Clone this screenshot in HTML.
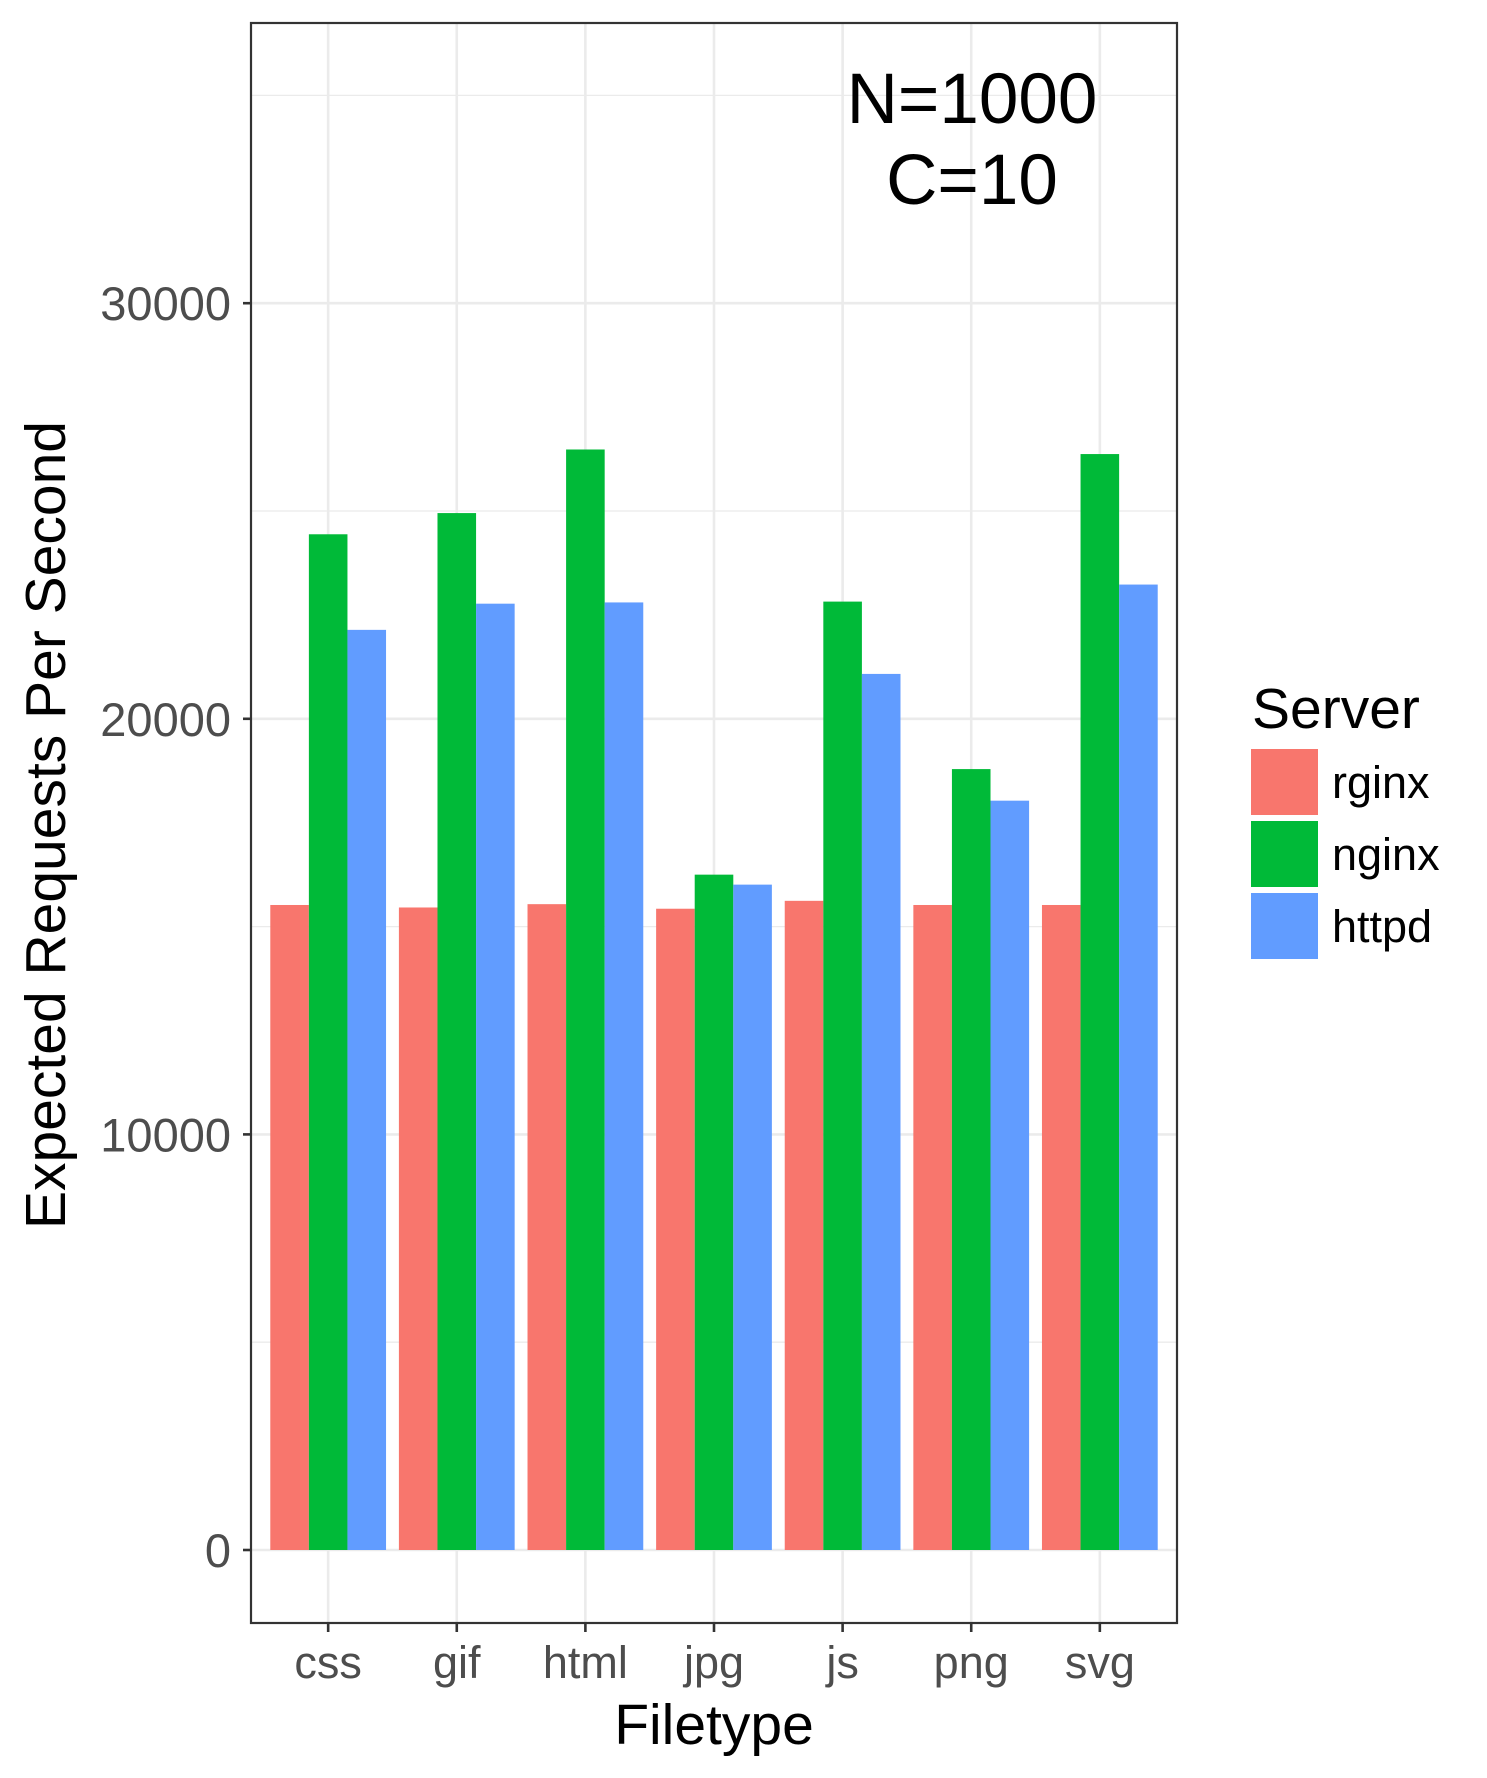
<!DOCTYPE html>
<html><head><meta charset="utf-8"><style>
html,body{margin:0;padding:0;background:#fff;}
svg{display:block;font-family:"Liberation Sans",Arial,sans-serif;}
</style></head><body>
<svg id="chart" width="1487" height="1778" viewBox="0 0 1487 1778">
<rect x="0" y="0" width="1487" height="1778" fill="#fff"/>
<g id="grid"></g>
<g id="bars"></g>
<rect x="251" y="23" width="926" height="1600" fill="none" stroke="#333" stroke-width="2.2"/>
<g id="axes"></g>
<text x="972" y="123" font-size="71" text-anchor="middle" fill="#000">N=1000</text>
<text x="972" y="204" font-size="71" text-anchor="middle" fill="#000">C=10</text>
<text x="714" y="1744" font-size="57" text-anchor="middle" fill="#000">Filetype</text>
<text x="0" y="0" font-size="57" text-anchor="middle" fill="#000" transform="translate(65,825) rotate(-90)">Expected Requests Per Second</text>
<g id="legend">
<text x="1252" y="728" font-size="57" fill="#000">Server</text>
</g>
</svg>
<script>
const categories = ["css","gif","html","jpg","js","png","svg"];
const seriesNames = ["rginx","nginx","httpd"];
const rginx = [15520,15460,15540,15430,15620,15520,15520];
const nginx = [24440,24950,26480,16250,22820,18790,26370];
const httpd = [22140,22770,22800,16010,21080,18030,23230];
const yTicks = [0,10000,20000,30000];
const yTickLabels = ["0","10000","20000","30000"];
const yMinor = [5000,15000,25000,35000];

const colors = ["#F8766D","#00BA38","#619CFF"];
const series = [rginx, nginx, httpd];
const NS = "http://www.w3.org/2000/svg";
const PL = 251, PR = 1177, PT = 23, PB = 1623;
const Y0 = 1550, PX10K = 415.6;
const yScale = v => Y0 - v * PX10K / 10000;
const unit = (PR - PL) / 7.2;
const xScale = i => PL + (i + 1 - 0.4) * unit;

function mk(tag, attrs, parent){
  const e = document.createElementNS(NS, tag);
  for (const k in attrs) e.setAttribute(k, attrs[k]);
  parent.appendChild(e);
  return e;
}
const grid = document.getElementById('grid');
const barsG = document.getElementById('bars');
const axes = document.getElementById('axes');
const legend = document.getElementById('legend');

yMinor.forEach(v => {
  const y = yScale(v);
  if (y < PT) return;
  const l = mk('line', {x1:PL, x2:PR, y1:y, y2:y, stroke:'#ebebeb', 'stroke-width':1.3}, grid);
  
  
});
yTicks.forEach((v, i) => {
  const y = yScale(v);
  const l = mk('line', {x1:PL, x2:PR, y1:y, y2:y, stroke:'#ebebeb', 'stroke-width':2.6}, grid);
  
  
  const t = mk('line', {x1:243, x2:PL, y1:y, y2:y, stroke:'#333', 'stroke-width':2.6}, axes);
  
  
  const tx = mk('text', {x:231, y:y + 17, 'font-size':47, 'text-anchor':'end', fill:'#4d4d4d'}, axes);
  tx.textContent = yTickLabels[i];
  
  
});
categories.forEach((c, i) => {
  const x = xScale(i);
  const l = mk('line', {x1:x, x2:x, y1:PT, y2:PB, stroke:'#ebebeb', 'stroke-width':2.6}, grid);
  
  
  const t = mk('line', {x1:x, x2:x, y1:PB, y2:PB + 9, stroke:'#333', 'stroke-width':2.6}, axes);
  
  
  const tx = mk('text', {x:x, y:1678, 'font-size':45, 'text-anchor':'middle', fill:'#4d4d4d'}, axes);
  tx.textContent = c;
  
  
  series.forEach((s, j) => {
    const bw = unit * 0.3;
    const bx = x - unit * 0.45 + j * bw;
    const y = yScale(s[i]);
    const r = mk('rect', {x:bx, y:y, width:bw, height:Y0 - y, fill:colors[j]}, barsG);
    
    
  });
});
seriesNames.forEach((n, j) => {
  const y = 749 + j * 72;
  const r = mk('rect', {x:1251, y:y, width:67, height:66, fill:colors[j]}, legend);
  
  
  const t = mk('text', {x:1332, y:y + 49, 'font-size':45, fill:'#000'}, legend);
  t.textContent = n;
  
  
});
</script>
</body></html>
